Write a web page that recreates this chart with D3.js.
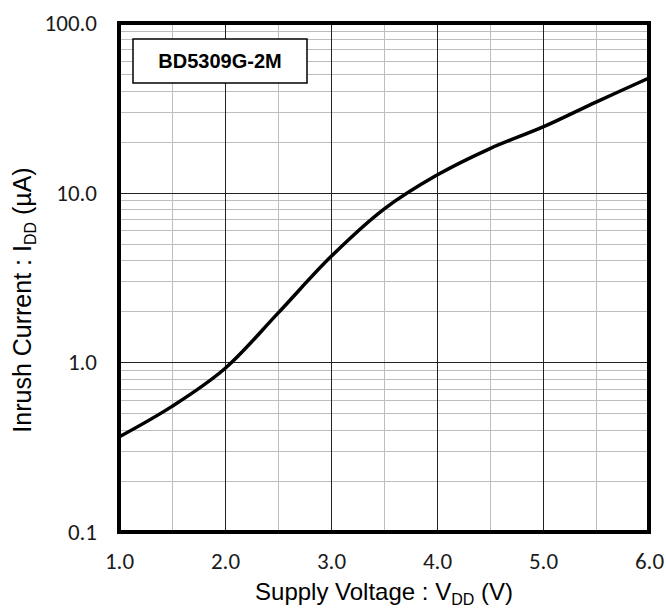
<!DOCTYPE html>
<html>
<head>
<meta charset="utf-8">
<script src="https://cdn.jsdelivr.net/npm/d3@7"></script>
<style>
  body { margin: 0; background: #fff; }
  svg { display: block; }
</style>
</head>
<body>
<svg id="drawing_region"></svg>
<script>
// supply voltage (V) and inrush current (uA)
const voltage = [1.0, 1.5, 2.0, 2.5, 3.0, 3.5, 4.0, 4.5, 5.0, 5.5, 6.0];
const current = [0.363, 0.55, 0.92, 1.95, 4.2, 8.0, 12.7, 18.2, 24.4, 34.2, 47.4];
const xTicks = [1, 2, 3, 4, 5, 6];
const yTicks = [0.1, 1, 10, 100];
const label = "BD5309G-2M";

const data = voltage.map((v, i) => ({ x: v, y: current[i] }));

const width = 666, height = 614;
const margin = { top: 23, right: 17, bottom: 82, left: 119 };
const iw = width - margin.left - margin.right;
const ih = height - margin.top - margin.bottom;

const svg = d3.select('#drawing_region')
    .attr('width', width)
    .attr('height', height);

const chart = svg.append('g')
    .attr('transform', `translate(${margin.left}, ${margin.top})`);

const xscale = d3.scaleLinear().domain([1, 6]).range([0, iw]);
const yscale = d3.scaleLog().domain([0.1, 100]).range([ih, 0]);

// minor grid
const xMinor = d3.range(1.5, 6, 1);
const yMinor = [];
[0.1, 1, 10].forEach(d => { for (let k = 2; k <= 9; k++) yMinor.push(d * k); });

chart.append('g').selectAll('line').data(xMinor).join('line')
    .attr('x1', d => Math.round(xscale(d)) + 0.5).attr('x2', d => Math.round(xscale(d)) + 0.5)
    .attr('y1', 0).attr('y2', ih)
    .attr('stroke', '#bdbdbd').attr('stroke-width', 1);

chart.append('g').selectAll('line').data(yMinor).join('line')
    .attr('x1', 0).attr('x2', iw)
    .attr('y1', d => Math.round(yscale(d)) + 0.5).attr('y2', d => Math.round(yscale(d)) + 0.5)
    .attr('stroke', '#bdbdbd').attr('stroke-width', 1);

// major grid
chart.append('g').selectAll('line').data(xTicks.slice(1, -1)).join('line')
    .attr('x1', d => Math.round(xscale(d)) + 0.5).attr('x2', d => Math.round(xscale(d)) + 0.5)
    .attr('y1', 0).attr('y2', ih)
    .attr('stroke', '#222').attr('stroke-width', 1);

chart.append('g').selectAll('line').data(yTicks.slice(1, -1)).join('line')
    .attr('x1', 0).attr('x2', iw)
    .attr('y1', d => Math.round(yscale(d)) + 0.5).attr('y2', d => Math.round(yscale(d)) + 0.5)
    .attr('stroke', '#222').attr('stroke-width', 1);

// curve
const line = d3.line()
    .x(d => xscale(d.x))
    .y(d => yscale(d.y))
    .curve(d3.curveCatmullRom.alpha(0.5));

chart.append('path')
    .datum(data)
    .attr('d', line)
    .attr('fill', 'none')
    .attr('stroke', '#000')
    .attr('stroke-width', 3.5)
    .attr('stroke-linejoin', 'round');

// frame
chart.append('rect')
    .attr('x', 0).attr('y', 0)
    .attr('width', iw).attr('height', ih)
    .attr('fill', 'none')
    .attr('stroke', '#000')
    .attr('stroke-width', 4);

// legend box
chart.append('rect')
    .attr('x', 14).attr('y', 16)
    .attr('width', 174).attr('height', 44)
    .attr('fill', '#fff')
    .attr('stroke', '#000')
    .attr('stroke-width', 1.5);

chart.append('text')
    .attr('x', 101).attr('y', 38)
    .attr('text-anchor', 'middle')
    .attr('dominant-baseline', 'central')
    .attr('font-family', '"Liberation Sans", Arial, sans-serif')
    .attr('font-weight', 'bold')
    .attr('font-size', 20)
    .text(label);

// axes
const xaxis = d3.axisBottom(xscale)
    .tickValues(xTicks)
    .tickFormat(d3.format('.1f'))
    .tickSize(0)
    .tickPadding(21);

const yaxis = d3.axisLeft(yscale)
    .tickValues(yTicks)
    .tickFormat(d3.format('.1f'))
    .tickSize(0)
    .tickPadding(22);

const xg = chart.append('g')
    .attr('transform', `translate(0, ${ih})`)
    .call(xaxis);
const yg = chart.append('g').call(yaxis);

[xg, yg].forEach(g => {
    g.select('.domain').remove();
    g.selectAll('text')
        .attr('font-family', 'Carlito, Lato, "Open Sans", sans-serif')
        .attr('font-size', 23)
        .attr('fill', '#1a1a1a');
});

// axis titles
const xt = svg.append('text')
    .attr('x', margin.left + iw / 2)
    .attr('y', 600)
    .attr('text-anchor', 'middle')
    .attr('font-family', '"Liberation Sans", Arial, sans-serif')
    .attr('font-size', 24);
xt.append('tspan').text('Supply Voltage : V');
xt.append('tspan').attr('dy', 5).attr('font-size', 16).text('DD');
xt.append('tspan').attr('dy', -5).text(' (V)');

const yt = svg.append('text')
    .attr('transform', `translate(31, 300) rotate(-90)`)
    .attr('text-anchor', 'middle')
    .attr('font-family', '"Liberation Sans", Arial, sans-serif')
    .attr('font-size', 25);
yt.append('tspan').text('Inrush Current : I');
yt.append('tspan').attr('dy', 5).attr('font-size', 16).text('DD');
yt.append('tspan').attr('dy', -5).text(' (\u00b5A)');
</script>
</body>
</html>
